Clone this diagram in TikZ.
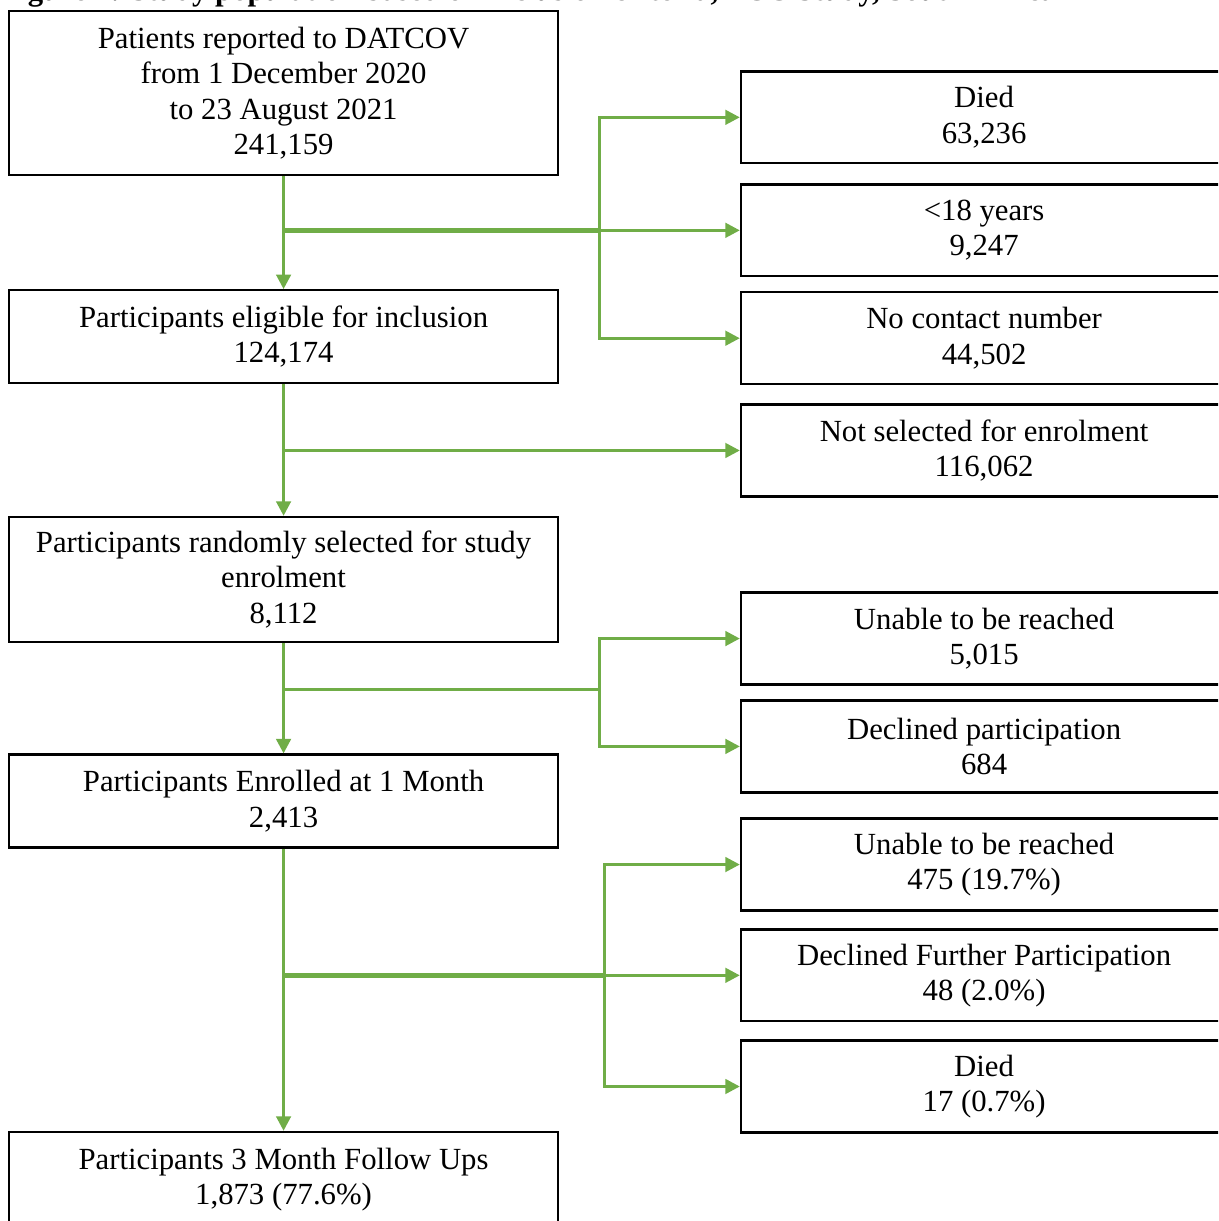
\documentclass[tikz,border=0pt]{standalone}
\usepackage{fontspec}
\setmainfont{Liberation Serif}
\usetikzlibrary{arrows.meta, positioning, calc}
\definecolor{flowgreen}{RGB}{112, 173, 71}

\begin{document}
\begin{tikzpicture}[
    box/.style={rectangle, draw, line width=0.9pt, minimum width=7.53cm, minimum height=1.276cm, align=center, font=\fontsize{12}{13.8}\selectfont, execute at begin node={\rule{0pt}{10.5pt}}},
    sidebox/.style={box, minimum width=6.67cm, minimum height=1.26cm},
    flow/.style={-{Triangle[length=2mm, width=2mm]}, line width=1.2pt, draw=flowgreen},
    trunk/.style={draw=flowgreen, line width=2pt}
]
\useasboundingbox (0,0) rectangle (16.71,16.75);
\clip (0,0) rectangle (16.71,16.75);

% Caption (cut off at the top)
\node[anchor=base west, inner sep=0pt, font=\bfseries\fontsize{12}{14}\selectfont] (caption) at (0.0,16.745) {Figure 1: Study population based on inclusion criteria, PCC Study, South Africa};

% Main flow
\node[box, minimum height=2.25cm, execute at begin node={}] (reported) at (3.89,15.47) {Patients reported to DATCOV\\from 1 December 2020\\to 23 August 2021\\241,159};
\node[box] (eligible) at (3.89,12.13) {Participants eligible for inclusion\\124,174};
\node[box, minimum height=1.715cm] (selected) at (3.89,8.80) {Participants randomly selected for study\\enrolment\\8,112};
\node[box] (enrolled) at (3.89,5.76) {Participants Enrolled at 1 Month\\2,413};
\node[box, minimum height=1.30cm] (followup) at (3.89,0.571) {Participants 3 Month Follow Ups\\1,873 (77.6\%)};

% Exclusions
\node[sidebox] (died) at (13.50,15.14) {Died\\63,236};
\node[sidebox] (under18) at (13.50,13.59) {<18 years\\9,247};
\node[sidebox] (nocontact) at (13.50,12.11) {No contact number\\44,502};
\node[sidebox] (notselected) at (13.50,10.57) {Not selected for enrolment\\116,062};
\node[sidebox] (unreached) at (13.50,7.99) {Unable to be reached\\5,015};
\node[sidebox] (declined) at (13.50,6.51) {Declined participation\\684};
\node[sidebox] (lost) at (13.50,4.89) {Unable to be reached\\475 (19.7\%)};
\node[sidebox] (withdrew) at (13.50,3.37) {Declined Further Participation\\48 (2.0\%)};
\node[sidebox] (deceased) at (13.50,1.845) {Died\\17 (0.7\%)};

% Split points
\coordinate (busA) at (8.23,0);
\coordinate (busB) at (8.23,0);
\coordinate (busC) at (8.29,0);
\coordinate (splitC) at (3.89,7.285);

% Arrows
\draw[flow] (reported) -- (eligible);
\draw[trunk] (reported.south |- under18.west) -- (busA |- under18.west);
\draw[flow] (busA |- under18.west) -- (under18.west);
\draw[flow] (busA |- under18.west) |- (died.west);
\draw[flow] (busA |- under18.west) |- (nocontact.west);

\draw[flow] (eligible) -- (selected);
\draw[flow] (eligible.south |- notselected.west) -- (notselected.west);

\draw[flow] (selected) -- (enrolled);
\draw[flowgreen, line width=1.2pt] (splitC) -- (splitC -| busB);
\draw[flow] (splitC -| busB) |- (unreached.west);
\draw[flow] (splitC -| busB) |- (declined.west);

\draw[flow] (enrolled) -- (followup);
\draw[trunk, line width=2.2pt] (enrolled.south |- withdrew.west) -- (busC |- withdrew.west);
\draw[flow] (busC |- withdrew.west) -- (withdrew.west);
\draw[flow] (busC |- withdrew.west) |- (lost.west);
\draw[flow] (busC |- withdrew.west) |- (deceased.west);
\end{tikzpicture}
\end{document}
